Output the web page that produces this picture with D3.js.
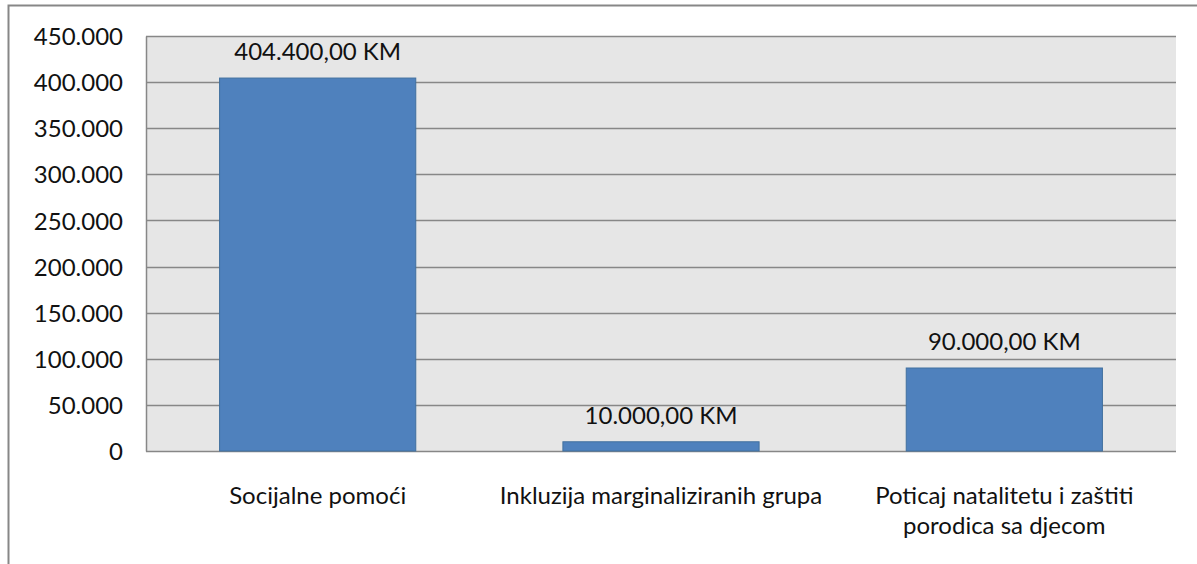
<!DOCTYPE html>
<html lang="bs">
<head>
<meta charset="UTF-8">
<title>Rashodi po programima</title>
<script src="https://cdn.jsdelivr.net/npm/d3@7"></script>
<style>
  body { margin: 0; background: #fff; }
  svg text { font-family: Lato, "Open Sans", sans-serif; fill: #111; }
</style>
</head>
<body>
<div id="chart"></div>
<script>
// data
const categories = [
  ["Socijalne pomoći"],
  ["Inkluzija marginaliziranih grupa"],
  ["Poticaj natalitetu i zaštiti", "porodica sa djecom"]
];
const values = [404400, 10000, 90000];
const valueLabels = ["404.400,00 KM", "10.000,00 KM", "90.000,00 KM"];
const yTicks = [0, 50000, 100000, 150000, 200000, 250000, 300000, 350000, 400000, 450000];

const W = 1197, H = 564;
const plot = {left: 146, right: 1176, top: 36, bottom: 451};

const svg = d3.select("#chart").append("svg")
    .attr("width", W)
    .attr("height", H);

// outer chart frame (only left and top edges are visible in the crop)
svg.append("path")
    .attr("d", `M8.5,${H} L8.5,5.5 L${W},5.5`)
    .attr("fill", "none")
    .attr("stroke", "#878787")
    .attr("stroke-width", 2);

const x = d3.scaleBand()
    .domain(d3.range(categories.length))
    .range([plot.left, plot.right])
    .paddingInner(0.75 / 1.75)
    .paddingOuter(0.375 / 1.75);

const y = d3.scaleLinear()
    .domain([0, 450000])
    .range([plot.bottom, plot.top]);

// plot area
svg.append("rect")
    .attr("x", plot.left)
    .attr("y", plot.top)
    .attr("width", plot.right - plot.left)
    .attr("height", plot.bottom - plot.top)
    .attr("fill", "#e6e6e6");

// gridlines
svg.append("g")
  .selectAll("line")
  .data(yTicks)
  .join("line")
    .attr("x1", plot.left)
    .attr("x2", plot.right)
    .attr("y1", d => Math.round(y(d)) + 0.5)
    .attr("y2", d => Math.round(y(d)) + 0.5)
    .attr("stroke", "#878787")
    .attr("stroke-width", 1.5);

// y axis
const fmt = d3.formatLocale({decimal: ",", thousands: ".", grouping: [3], currency: ["", " KM"]}).format(",d");
const yAxis = svg.append("g")
    .attr("transform", `translate(${plot.left},0)`)
    .call(d3.axisLeft(y).tickValues(yTicks).tickFormat(fmt).tickSize(0).tickPadding(23));
yAxis.select(".domain").attr("stroke", "#878787").attr("stroke-width", 1.5);
yAxis.selectAll("text")
    .style("font-size", "24px")
    .attr("fill", "#111")
    .attr("dy", "0.36em");

// bars
svg.append("g")
  .selectAll("rect")
  .data(values)
  .join("rect")
    .attr("x", (d, i) => x(i))
    .attr("y", d => y(d))
    .attr("width", x.bandwidth())
    .attr("height", d => y(0) - y(d))
    .attr("fill", "#4f81bd")
    .attr("stroke", "#41709f")
    .attr("stroke-width", 1);

// value labels
svg.append("g")
  .selectAll("text")
  .data(values)
  .join("text")
    .attr("x", (d, i) => x(i) + x.bandwidth() / 2)
    .attr("y", d => y(d) - 18)
    .attr("text-anchor", "middle")
    .style("font-size", "24px")
    .text((d, i) => valueLabels[i]);

// category labels
const cat = svg.append("g")
  .selectAll("text")
  .data(categories)
  .join("text")
    .attr("x", (d, i) => x(i) + x.bandwidth() / 2)
    .attr("y", 504)
    .attr("text-anchor", "middle")
    .style("font-size", "24px");
cat.selectAll("tspan")
  .data(d => d)
  .join("tspan")
    .attr("x", function() { return this.parentNode.getAttribute("x"); })
    .attr("dy", (d, i) => i === 0 ? 0 : 30)
    .text(d => d);
</script>
</body>
</html>
